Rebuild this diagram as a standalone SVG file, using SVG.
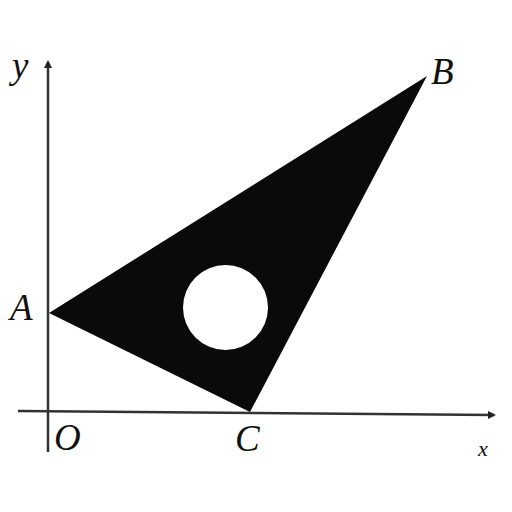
<svg xmlns="http://www.w3.org/2000/svg" width="512" height="512" viewBox="0 0 512 512">
<style>
.lbl{font-family:"Liberation Serif","DejaVu Serif",serif;font-style:italic;font-size:37px;fill:#111}
.ax{stroke:#333;stroke-width:2.5;fill:none}
</style>
<defs>
<marker id="arr" markerWidth="8" markerHeight="8" refX="6" refY="4" orient="auto" markerUnits="userSpaceOnUse">
<path d="M0,0 L8,4 L0,8 Z" fill="#222"/>
</marker>
</defs>
<rect width="512" height="512" fill="#fff"/>
<g id="axes">
<line class="ax" x1="48" y1="452" x2="48" y2="62" marker-end="url(#arr)"/>
<line class="ax" x1="18" y1="411" x2="494" y2="415" marker-end="url(#arr)"/>
</g>
<g id="triangle">
<path d="M49,313 L427,76 L250,412 Z M183,307.5 A42.5,42.5 0 1,0 268,307.5 A42.5,42.5 0 1,0 183,307.5 Z" fill="#0a0a0a" fill-rule="evenodd"/>
</g>
<g id="labels">
<text class="lbl" x="12" y="78">y</text>
<text class="lbl" x="431" y="84">B</text>
<text class="lbl" x="10" y="320">A</text>
<text class="lbl" x="54" y="450">O</text>
<text class="lbl" x="235" y="451">C</text>
<text class="lbl" x="478" y="456" fill="#555" style="font-size:22px">x</text>
</g>
</svg>
